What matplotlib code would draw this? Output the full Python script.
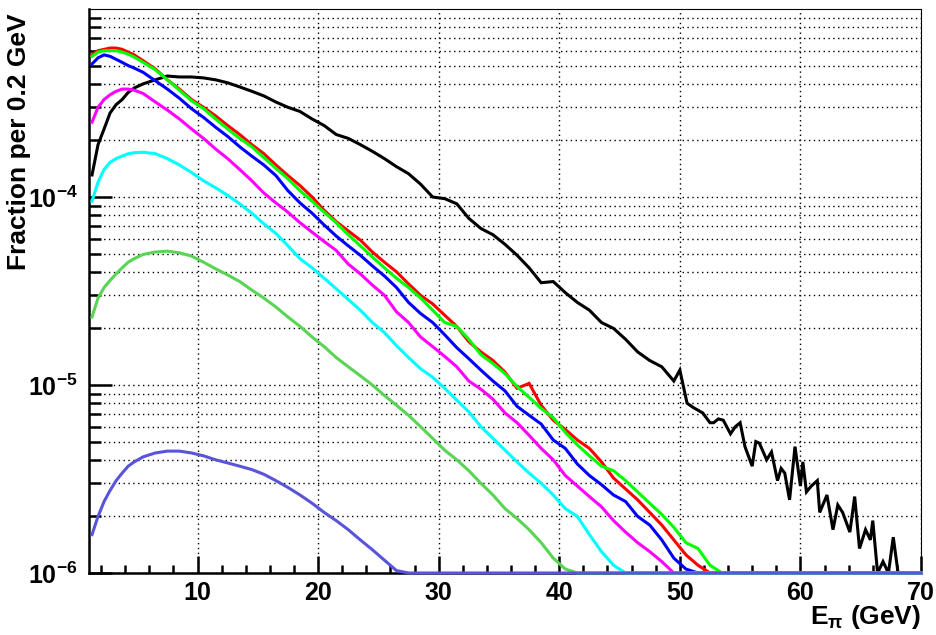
import numpy as np
import matplotlib
matplotlib.use("Agg")
import matplotlib.pyplot as plt
from matplotlib.ticker import FixedLocator, MultipleLocator, NullFormatter, LogLocator

plt.rcParams['font.family'] = ['Liberation Sans', 'DejaVu Sans']
plt.rcParams['font.weight'] = 'bold'
plt.rcParams['mathtext.fontset'] = 'custom'
plt.rcParams['mathtext.rm'] = 'Liberation Sans:bold'
plt.rcParams['mathtext.bf'] = 'Liberation Sans:bold'
plt.rcParams['mathtext.it'] = 'Liberation Sans:bold'
plt.rcParams['mathtext.default'] = 'rm'

### Данные: центры бинов (ГэВ) и доли на бин для каждой выборки
centers = np.concatenate([np.arange(1.25, 5, 0.5), np.arange(5.5, 70, 1)])

black = [1.31e-4, 1.9e-4, 2.3e-4, 2.8e-4, 3.1e-4, 3.3e-4, 3.6e-4, 3.8e-4,
         4.0e-4, 4.2e-4, 4.4e-4, 4.35e-4, 4.35e-4, 4.3e-4, 4.2e-4, 4.05e-4, 3.85e-4, 3.65e-4,
         3.45e-4, 3.2e-4, 3.0e-4, 2.85e-4, 2.6e-4, 2.4e-4, 2.15e-4, 2.05e-4, 1.9e-4, 1.75e-4,
         1.6e-4, 1.45e-4, 1.33e-4, 1.17e-4, 1.0e-4, 9.8e-5, 9.2e-5, 7.7e-5, 6.8e-5, 6.3e-5,
         5.6e-5, 4.9e-5, 4.2e-5, 3.5e-5, 3.55e-5, 3.1e-5, 2.75e-5, 2.5e-5, 2.15e-5, 2.0e-5,
         1.75e-5, 1.5e-5, 1.35e-5, 1.25e-5, 1.05e-5]
black_tail_E = [50.0, 50.6, 51.1, 51.9, 52.5, 52.8, 53.2, 53.6, 54.2, 54.6,
                55.0, 55.4, 56.0, 56.3, 56.6, 57.2, 57.6, 58.1, 58.4, 58.7,
                59.1, 59.55, 60.0, 60.2, 60.5, 60.9, 61.4, 61.6, 62.2, 62.7,
                63.1, 63.5, 64.1, 64.5, 64.9, 65.4, 65.8, 66.0, 66.4, 66.85,
                67.3, 67.7, 68.1, 70.0]
black_tail = [1.2e-5, 8.0e-6, 7.6e-6, 7.1e-6, 6.3e-6, 6.3e-6, 6.6e-6, 6.5e-6, 5.5e-6, 6.0e-6,
              6.3e-6, 4.7e-6, 3.7e-6, 5.0e-6, 4.9e-6, 4.0e-6, 4.4e-6, 3.1e-6, 3.6e-6, 3.4e-6,
              2.45e-6, 4.7e-6, 2.9e-6, 3.9e-6, 2.7e-6, 2.9e-6, 3.1e-6, 2.1e-6, 2.6e-6, 1.7e-6,
              2.3e-6, 2.1e-6, 1.65e-6, 2.55e-6, 1.35e-6, 1.7e-6, 1.5e-6, 1.9e-6, 0, 1.15e-6,
              0, 1.55e-6, 0, 0]

red = [5.7e-4, 6.0e-4, 6.1e-4, 6.2e-4, 6.2e-4, 6.1e-4, 5.9e-4, 5.7e-4,
       5.3e-4, 4.8e-4, 4.2e-4, 3.75e-4, 3.3e-4, 3.0e-4, 2.7e-4, 2.4e-4, 2.15e-4, 1.9e-4,
       1.7e-4, 1.48e-4, 1.3e-4, 1.15e-4, 1.0e-4, 8.5e-5, 7.4e-5, 6.6e-5, 5.9e-5, 5.1e-5,
       4.5e-5, 4.0e-5, 3.45e-5, 3.0e-5, 2.7e-5, 2.35e-5, 2.05e-5, 1.7e-5, 1.5e-5, 1.35e-5,
       1.17e-5, 9.6e-6, 1.02e-5, 7.8e-6, 6.5e-6, 5.8e-6, 5.1e-6, 4.6e-6, 3.9e-6, 3.2e-6,
       2.8e-6, 2.45e-6, 2.1e-6, 1.8e-6, 1.5e-6, 1.25e-6, 1.1e-6, 0, 0, 0,
       0, 0, 0, 0, 0, 0, 0, 0, 0, 0,
       0, 0, 0, 0, 0]

green = [5.6e-4, 5.9e-4, 6.0e-4, 6.0e-4, 6.0e-4, 5.9e-4, 5.75e-4, 5.55e-4,
         5.2e-4, 4.75e-4, 4.2e-4, 3.7e-4, 3.25e-4, 2.95e-4, 2.6e-4, 2.3e-4, 2.05e-4, 1.85e-4,
         1.62e-4, 1.42e-4, 1.25e-4, 1.08e-4, 9.5e-5, 8.3e-5, 7.3e-5, 6.3e-5, 5.5e-5, 4.8e-5,
         4.2e-5, 3.7e-5, 3.3e-5, 2.9e-5, 2.5e-5, 2.15e-5, 2.05e-5, 1.75e-5, 1.45e-5, 1.3e-5,
         1.15e-5, 9.8e-6, 8.6e-6, 7.5e-6, 6.7e-6, 5.6e-6, 4.8e-6, 4.2e-6, 3.7e-6, 3.5e-6,
         3.1e-6, 2.7e-6, 2.35e-6, 2.05e-6, 1.75e-6, 1.45e-6, 1.35e-6, 1.1e-6, 0, 0,
         0, 0, 0, 0, 0, 0, 0, 0, 0, 0,
         0, 0, 0, 0, 0]

blue = [5.1e-4, 5.5e-4, 5.7e-4, 5.6e-4, 5.4e-4, 5.2e-4, 5.0e-4, 4.85e-4,
        4.6e-4, 4.15e-4, 3.75e-4, 3.35e-4, 2.95e-4, 2.65e-4, 2.35e-4, 2.1e-4, 1.85e-4, 1.65e-4,
        1.48e-4, 1.3e-4, 1.08e-4, 9.3e-5, 8.2e-5, 7.1e-5, 6.2e-5, 5.5e-5, 4.9e-5, 4.3e-5,
        3.8e-5, 3.3e-5, 2.75e-5, 2.4e-5, 2.15e-5, 1.85e-5, 1.58e-5, 1.38e-5, 1.2e-5, 1.05e-5,
        9.3e-6, 7.7e-6, 6.9e-6, 6.2e-6, 5.1e-6, 4.6e-6, 3.8e-6, 3.3e-6, 2.95e-6, 2.6e-6,
        2.4e-6, 2.0e-6, 1.8e-6, 1.5e-6, 1.2e-6, 1.05e-6, 0, 0, 0, 0,
        0, 0, 0, 0, 0, 0, 0, 0, 0, 0,
        0, 0, 0, 0, 0]

magenta = [2.5e-4, 3.0e-4, 3.3e-4, 3.5e-4, 3.65e-4, 3.75e-4, 3.75e-4, 3.7e-4,
           3.55e-4, 3.2e-4, 2.9e-4, 2.6e-4, 2.3e-4, 2.05e-4, 1.8e-4, 1.6e-4, 1.4e-4, 1.22e-4,
           1.05e-4, 9.3e-5, 8.3e-5, 7.3e-5, 6.5e-5, 5.8e-5, 5.2e-5, 4.4e-5, 3.9e-5, 3.4e-5,
           3.0e-5, 2.45e-5, 2.15e-5, 1.8e-5, 1.6e-5, 1.42e-5, 1.25e-5, 1.05e-5, 9.5e-6, 8.4e-6,
           7.1e-6, 6.3e-6, 5.4e-6, 4.6e-6, 4.0e-6, 3.3e-6, 2.9e-6, 2.55e-6, 2.25e-6, 1.9e-6,
           1.65e-6, 1.45e-6, 1.3e-6, 1.15e-6, 0, 0, 0, 0, 0, 0,
           0, 0, 0, 0, 0, 0, 0, 0, 0, 0,
           0, 0, 0, 0, 0]

cyan = [9.5e-5, 1.2e-4, 1.4e-4, 1.53e-4, 1.6e-4, 1.65e-4, 1.7e-4, 1.72e-4,
        1.73e-4, 1.7e-4, 1.6e-4, 1.48e-4, 1.35e-4, 1.22e-4, 1.12e-4, 1.02e-4, 9.2e-5, 8.2e-5,
        7.2e-5, 6.4e-5, 5.5e-5, 4.7e-5, 4.2e-5, 3.7e-5, 3.25e-5, 2.85e-5, 2.5e-5, 2.15e-5,
        1.9e-5, 1.62e-5, 1.4e-5, 1.22e-5, 1.1e-5, 9.6e-6, 8.3e-6, 7.2e-6, 6.0e-6, 5.2e-6,
        4.5e-6, 3.9e-6, 3.4e-6, 3.0e-6, 2.6e-6, 2.2e-6, 2.0e-6, 1.6e-6, 1.3e-6, 1.1e-6,
        0, 0, 0, 0, 0, 0, 0, 0, 0, 0,
        0, 0, 0, 0, 0, 0, 0, 0, 0, 0,
        0, 0, 0, 0, 0]

lightgreen = [2.3e-5, 2.9e-5, 3.3e-5, 3.6e-5, 3.9e-5, 4.2e-5, 4.5e-5, 4.7e-5,
              4.95e-5, 5.1e-5, 5.15e-5, 5.05e-5, 4.85e-5, 4.5e-5, 4.15e-5, 3.85e-5, 3.55e-5, 3.2e-5,
              2.9e-5, 2.6e-5, 2.3e-5, 2.05e-5, 1.8e-5, 1.6e-5, 1.4e-5, 1.25e-5, 1.12e-5, 1.0e-5,
              8.8e-6, 7.8e-6, 6.9e-6, 6.0e-6, 5.2e-6, 4.5e-6, 4.0e-6, 3.5e-6, 3.0e-6, 2.6e-6,
              2.2e-6, 1.95e-6, 1.7e-6, 1.45e-6, 1.2e-6, 1.05e-6, 0, 0, 0, 0,
              0, 0, 0, 0, 0, 0, 0, 0, 0, 0,
              0, 0, 0, 0, 0, 0, 0, 0, 0, 0,
              0, 0, 0, 0, 0]

purple = [1.6e-6, 2.0e-6, 2.4e-6, 2.75e-6, 3.1e-6, 3.4e-6, 3.7e-6, 3.9e-6,
          4.15e-6, 4.35e-6, 4.45e-6, 4.45e-6, 4.35e-6, 4.2e-6, 4.0e-6, 3.85e-6, 3.7e-6, 3.55e-6,
          3.35e-6, 3.1e-6, 2.85e-6, 2.6e-6, 2.35e-6, 2.1e-6, 1.9e-6, 1.7e-6, 1.5e-6, 1.33e-6,
          1.17e-6, 1.03e-6, 0, 0, 0, 0, 0, 0, 0, 0,
          0, 0, 0, 0, 0, 0, 0, 0, 0, 0,
          0, 0, 0, 0, 0, 0, 0, 0, 0, 0,
          0, 0, 0, 0, 0, 0, 0, 0, 0, 0,
          0, 0, 0, 0, 0]

YMIN, YMAX = 1e-6, 1e-3


def with_end(vals):
    """Добавляет точку на правой границе (70 ГэВ), чтобы линия шла до конца оси."""
    return np.concatenate([centers, [70]]), np.array(list(vals) + [vals[-1]], dtype=float)


series = [
    (np.concatenate([centers[:len(black)], black_tail_E]),
     np.array(black + black_tail, dtype=float), '#000000'),
    (*with_end(red), '#ff0000'),
    (*with_end(green), '#00ff00'),
    (*with_end(blue), '#0000ff'),
    (*with_end(magenta), '#ff00ff'),
    (*with_end(cyan), '#00ffff'),
    (*with_end(lightgreen), '#59d454'),
    (*with_end(purple), '#5954d9'),
]

fig = plt.figure(figsize=(9.37, 6.35), dpi=100)
ax = fig.add_axes([89 / 937, 62 / 635, 832 / 937, 564 / 635])

for x, vals, col in series:
    # пустые бины рисуются по нижней границе, как в ROOT
    v = np.clip(vals, YMIN, YMAX)
    ax.plot(x, v, color=col, lw=2.2, clip_on=False, zorder=3,
            solid_joinstyle='miter')

ax.set_yscale('log')
ax.set_xlim(1, 70)
ax.set_ylim(YMIN, YMAX)

ax.xaxis.set_major_locator(MultipleLocator(10))
ax.xaxis.set_minor_locator(MultipleLocator(2))
ax.yaxis.set_major_locator(FixedLocator([1e-6, 1e-5, 1e-4]))
ax.yaxis.set_minor_locator(LogLocator(base=10, subs=np.arange(2, 10)))
ax.yaxis.set_minor_formatter(NullFormatter())
ax.set_yticklabels([r'$10^{-6}$', r'$10^{-5}$', r'$10^{-4}$'])

ax.tick_params(axis='both', which='both', direction='in', width=1.8, labelsize=18)
ax.tick_params(axis='y', which='major', length=16.5, pad=8)
ax.tick_params(axis='y', which='minor', length=8.5)
ax.tick_params(axis='x', which='major', length=12, pad=6)
ax.tick_params(axis='x', which='minor', length=6)

ax.grid(True, axis='x', which='major', color='black', lw=1.0, ls=(0, (1, 2.5)))
ax.grid(True, axis='y', which='both', color='black', lw=1.0, ls=(0, (1, 2.5)))
ax.set_axisbelow(True)

for s in ['left', 'bottom']:
    ax.spines[s].set_linewidth(1.8)
for s in ['top', 'right']:
    ax.spines[s].set_linewidth(0.8)

fig.text(19 / 937, 1 - 13 / 635, 'Fraction per 0.2 GeV', rotation=90,
         ha='center', va='top', fontsize=19, fontweight='bold')
fig.text(921 / 937, 1 - 617 / 635, r'E$_{\pi}$ (GeV)',
         ha='right', va='center', fontsize=19, fontweight='bold')

fig.savefig('out.png', dpi=100)
